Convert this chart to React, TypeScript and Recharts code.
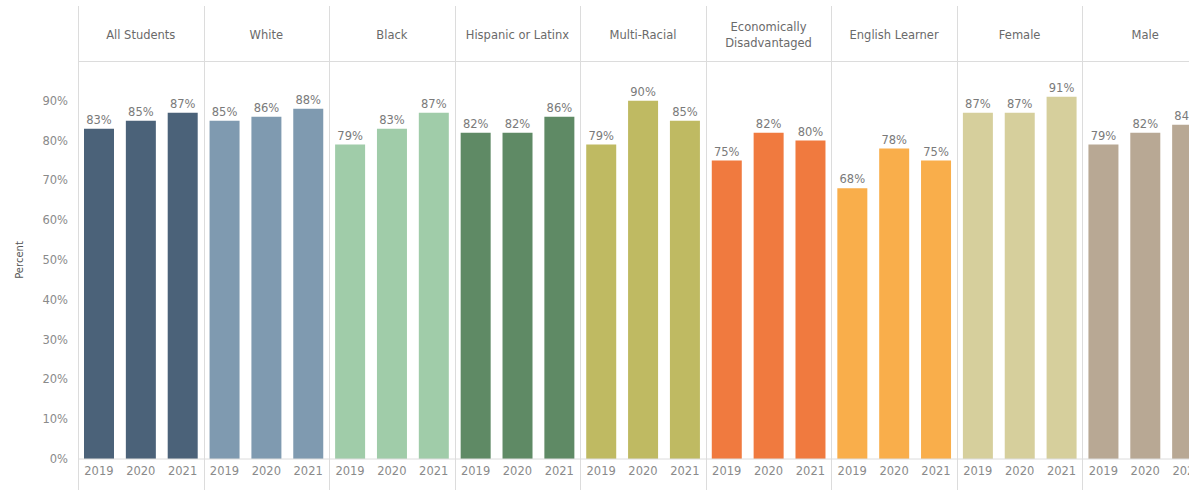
import React from 'react';
import { BarChart, Bar, XAxis, YAxis, Cell, LabelList } from 'recharts';

const groups = [
  'All Students',
  'White',
  'Black',
  'Hispanic or Latinx',
  'Multi-Racial',
  'Economically Disadvantaged',
  'English Learner',
  'Female',
  'Male',
];
const years = ['2019', '2020', '2021'];

const allStudents = [83, 85, 87];
const white = [85, 86, 88];
const black = [79, 83, 87];
const hispanic = [82, 82, 86];
const multiRacial = [79, 90, 85];
const econDisadvantaged = [75, 82, 80];
const englishLearner = [68, 78, 75];
const female = [87, 87, 91];
const male = [79, 82, 84];

const groupValues = [allStudents, white, black, hispanic, multiRacial, econDisadvantaged, englishLearner, female, male];
const groupColors = ['#4b6279', '#7f9ab0', '#a0cca9', '#5f8a65', '#bfba62', '#f07a3f', '#f9ae4b', '#d6cf9c', '#b8a894'];
const yTicks = [0, 10, 20, 30, 40, 50, 60, 70, 80, 90];

const data = groups.flatMap((g, i) =>
  years.map((y, j) => ({ key: `${i}|${y}`, value: groupValues[i][j], color: groupColors[i] }))
);

const CHART_W = 1208;
const AXIS_W = 78;
const GROUP_W = (CHART_W - AXIS_W) / groups.length;
const lineColor = '#dcdcdc';

const App = () => {
  return (
    <div
      style={{
        position: 'absolute',
        left: 0,
        top: 0,
        width: 1189,
        height: 490,
        overflow: 'hidden',
        background: '#fff',
        fontFamily: '"DejaVu Sans", sans-serif',
      }}
    >
      <BarChart width={CHART_W} height={490} data={data} margin={{ top: 61, right: 0, left: 0, bottom: 0 }}>
        <XAxis
          dataKey="key"
          height={31}
          tickFormatter={(v: string) => v.split('|')[1]}
          tick={{ fontSize: 11.5, fill: '#8a8a8a' }}
          tickLine={false}
          tickSize={0}
          tickMargin={8}
          interval={0}
          axisLine={{ stroke: lineColor }}
        />
        <YAxis
          width={AXIS_W}
          domain={[0, 100]}
          ticks={yTicks}
          tickFormatter={(v: number) => `${v}%`}
          tick={{ fontSize: 11.5, fill: '#8a8a8a' }}
          tickLine={false}
          axisLine={false}
          tickMargin={4}
          label={{
            value: 'Percent',
            angle: -90,
            position: 'insideLeft',
            offset: 19,
            style: { textAnchor: 'middle', fontSize: 10, fill: '#555' },
          }}
        />
        <Bar dataKey="value" barSize={30} isAnimationActive={false}>
          {data.map((d) => (
            <Cell key={d.key} fill={d.color} />
          ))}
          <LabelList
            dataKey="value"
            position="top"
            offset={5}
            formatter={(v: number) => `${v}%`}
            style={{ fontSize: 11.5, fill: '#7a7a7a' }}
          />
        </Bar>
      </BarChart>

      <div
        style={{
          position: 'absolute',
          left: AXIS_W,
          top: 61,
          width: CHART_W - AXIS_W,
          height: 1,
          background: lineColor,
        }}
      />
      {groups.map((g, i) => (
        <React.Fragment key={g}>
          <div
            style={{
              position: 'absolute',
              left: AXIS_W + i * GROUP_W,
              top: 6,
              width: 1,
              height: 484,
              background: lineColor,
            }}
          />
          <div
            style={{
              position: 'absolute',
              left: AXIS_W + i * GROUP_W,
              top: 8,
              width: GROUP_W,
              height: 53,
              display: 'flex',
              alignItems: 'center',
              justifyContent: 'center',
              textAlign: 'center',
              fontSize: 11.5,
              lineHeight: '16px',
              color: '#6a6a6a',
              padding: '0 6px',
              boxSizing: 'border-box',
            }}
          >
            {g}
          </div>
        </React.Fragment>
      ))}
    </div>
  );
};

export default App;
